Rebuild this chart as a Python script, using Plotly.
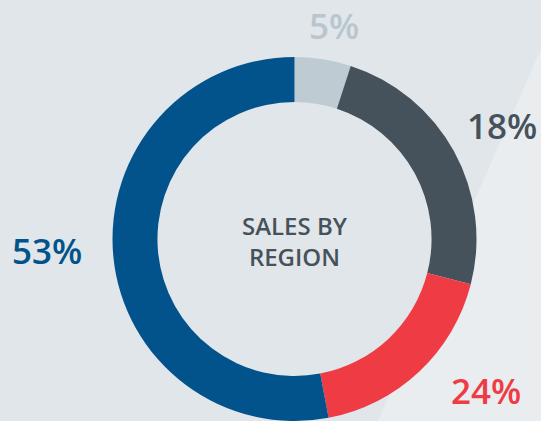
import plotly.graph_objects as go

# slices, clockwise from 12 o'clock
regions = ["Region A", "Region B", "Region C", "Region D"]
shares = [5, 24, 18, 53]
slice_colors = ["#bfcbd3", "#46525b", "#ef3b44", "#02538c"]

# percentage labels as printed around the ring
label_text = ["5%", "18%", "24%", "53%"]
label_colors = ["#b9c6ce", "#46525b", "#ef3b44", "#02538c"]
label_px = [(334, 26), (502, 125), (486, 390), (47, 250)]

W, H = 541, 421

fig = go.Figure(go.Pie(
    labels=regions,
    values=shares,
    marker=dict(colors=slice_colors, line=dict(width=0)),
    hole=0.753,
    sort=False,
    direction="clockwise",
    rotation=0,
    textinfo="none",
    hoverinfo="label+percent",
    domain=dict(x=[111 / W, 478 / W], y=[0, 364 / H]),
    showlegend=False,
))

for txt, col, (px_, py_) in zip(label_text, label_colors, label_px):
    fig.add_annotation(
        x=px_ / W, y=1 - py_ / H, xref="paper", yref="paper",
        text=txt, showarrow=False, xanchor="center", yanchor="middle",
        font=dict(family="Open Sans", size=35, color=col, weight=600),
    )

fig.add_annotation(
    x=294.5 / W, y=1 - 241 / H, xref="paper", yref="paper",
    text="SALES BY<br>REGION", showarrow=False,
    xanchor="center", yanchor="middle",
    font=dict(family="Open Sans", size=24, color="#46525b", weight=600),
)

# lighter diagonal panel on the right
fig.add_shape(
    type="path", xref="paper", yref="paper", layer="below",
    path=f"M 1 {1 - 49 / H} L {378 / W} 0 L 1 0 Z",
    fillcolor="#e9edf0", line=dict(width=0),
)

fig.update_layout(
    width=W, height=H,
    margin=dict(l=0, r=0, t=0, b=0),
    paper_bgcolor="#e1e6ea",
    plot_bgcolor="#e1e6ea",
)

fig.write_html(
    "out.html",
    config={"displayModeBar": False},
    post_script="document.body.style.margin='0';document.body.style.overflow='hidden';",
)
